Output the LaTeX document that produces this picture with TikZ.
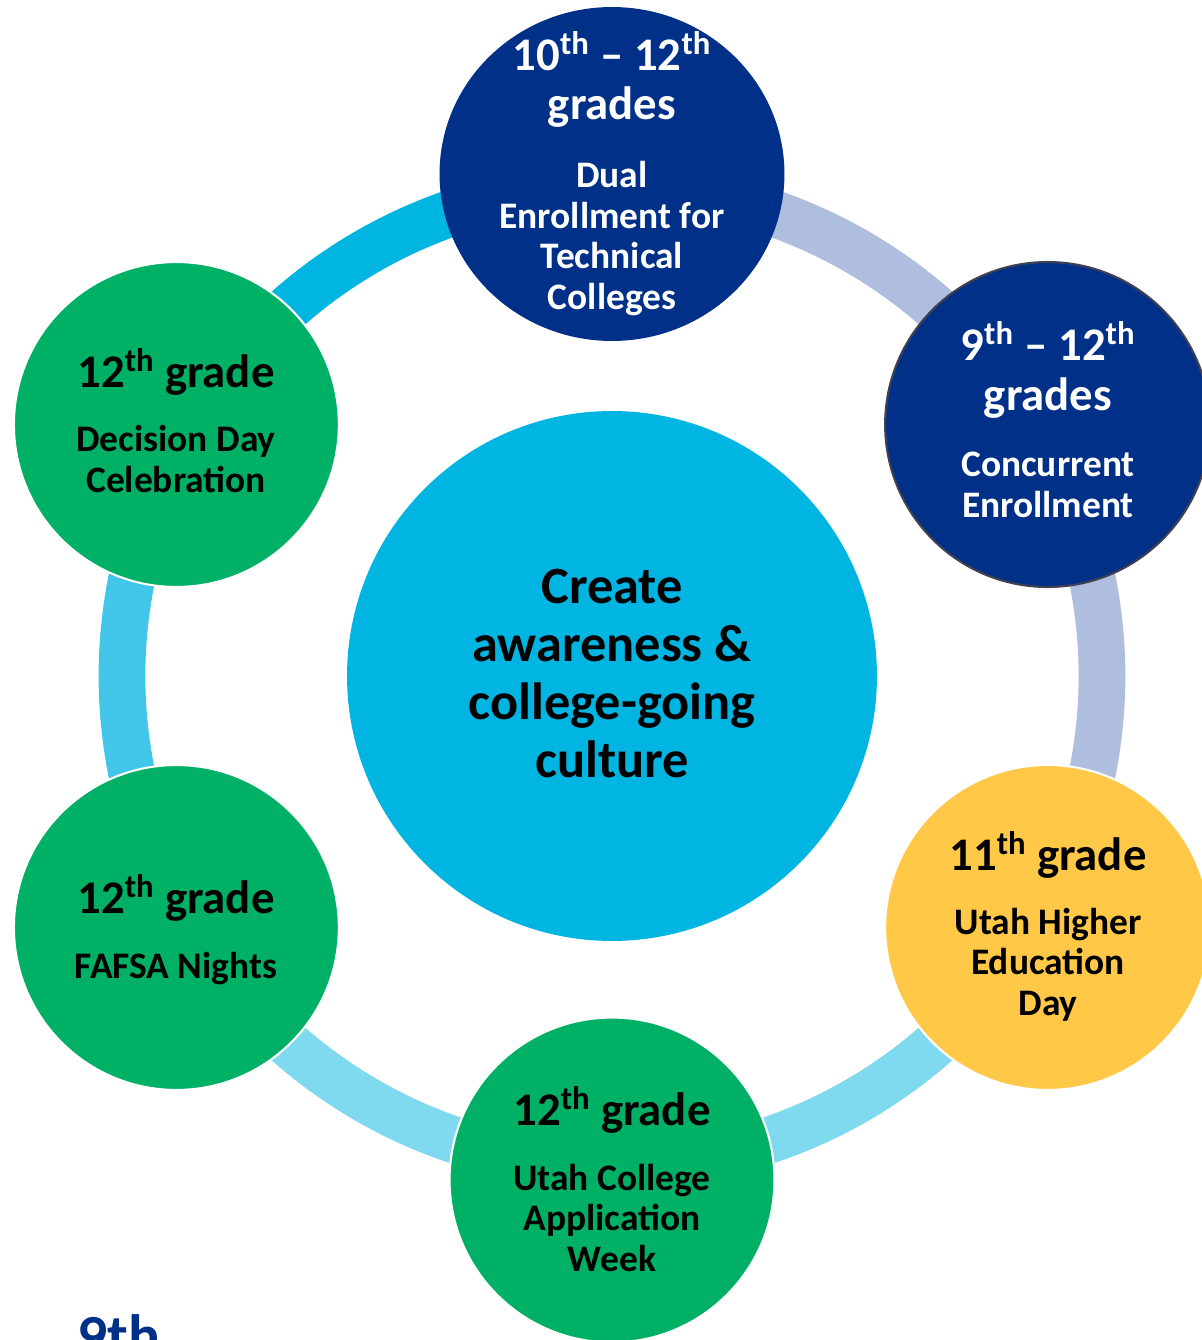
\documentclass[tikz,border=0pt]{standalone}
\usepackage{fontspec}
\setmainfont{Carlito}
\usetikzlibrary{shapes.geometric}
\definecolor{SlateNavy}{HTML}{003087}
\definecolor{GradeGreen}{HTML}{00B064}
\definecolor{GradeGold}{HTML}{FFC846}
\definecolor{HubCyan}{HTML}{00B5E2}
\definecolor{RingCyan}{HTML}{41C5E9}
\definecolor{RingSky}{HTML}{7FD9EF}
\definecolor{RingLilac}{HTML}{AFBDDF}
\definecolor{RimGrey}{HTML}{3F4152}

\begin{document}
\begin{tikzpicture}[x=0.02cm,y=0.02cm,
  bubble/.style={circle,inner sep=0pt,minimum size=6.5cm,draw=white,line width=1.2pt},
  ringband/.style={line width=26.6pt},
  headtxt/.style={align=center,anchor=base,inner sep=0pt,font=\bfseries\fontsize{26.6}{28.3}\selectfont},
  bodytxt/.style={align=center,anchor=base,inner sep=0pt,font=\bfseries\fontsize{21.3}{23}\selectfont},
  hubtxt/.style={align=center,anchor=base,inner sep=0pt,font=\bfseries\fontsize{29.8}{32.9}\selectfont}]
  \useasboundingbox (-612,-664) rectangle (590,676);
  \clip (-612,-664) rectangle (590,676);
  % the ring, one arc between each pair of circles
  \node[circle,inner sep=0pt,minimum size=10.6cm,fill=HubCyan] (hub) at (0,0) {};
  \foreach \a/\b/\c in {90/150/HubCyan,150/210/RingCyan,210/270/RingSky,270/330/RingSky,330/390/RingLilac,30/90/RingLilac}
    \draw[ringband,\c] (hub.center) ++(\a:490) arc[start angle=\a,end angle=\b,radius=490];
  % grade circles
  \node[ellipse,inner sep=0pt,minimum width=6.9cm,minimum height=6.68cm,fill=SlateNavy] (tenth) at (90:502) {};
  \node[bubble,fill=SlateNavy,draw=RimGrey] (ninth) at (30:503) {};
  \node[bubble,fill=GradeGold] (eleventh) at (-30:503) {};
  \node[bubble,fill=GradeGreen] (apply) at (-90:504) {};
  \node[bubble,fill=GradeGreen] (fafsa) at (210:503) {};
  \node[bubble,fill=GradeGreen] (decide) at (150:503) {};
  % texts (placed at the baseline of their last line)
  \node[hubtxt] (hub-t) at (0,-101) {Create\\awareness \&\\college-going\\culture};
  \node[headtxt,text=white] (tenth-h) at (0,556) {10\textsuperscript{th} – 12\textsuperscript{th}\\grades};
  \node[bodytxt,text=white] (tenth-b) at (0,367) {Dual\\Enrollment for\\Technical\\Colleges};
  \node[headtxt,text=white] (ninth-h) at (436,266) {9\textsuperscript{th} – 12\textsuperscript{th}\\grades};
  \node[bodytxt,text=white] (ninth-b) at (436,159) {Concurrent\\Enrollment};
  \node[headtxt] (eleventh-h) at (436,-194) {11\textsuperscript{th} grade};
  \node[bodytxt] (eleventh-b) at (436,-339) {Utah Higher\\Education\\Day};
  \node[headtxt] (apply-h) at (0,-449) {12\textsuperscript{th} grade};
  \node[bodytxt] (apply-b) at (0,-595) {Utah College\\Application\\Week};
  \node[headtxt] (fafsa-h) at (-436,-237) {12\textsuperscript{th} grade};
  \node[bodytxt] (fafsa-b) at (-436,-302) {FAFSA Nights};
  \node[headtxt] (decide-h) at (-436,289) {12\textsuperscript{th} grade};
  \node[bodytxt] (decide-b) at (-436,184) {Decision Day\\Celebration};
  \node[anchor=base west,inner sep=0pt,text=SlateNavy,font=\bfseries\fontsize{34}{40}\selectfont] (ninth-tag) at (-535,-680) {9th};
\end{tikzpicture}
\end{document}
